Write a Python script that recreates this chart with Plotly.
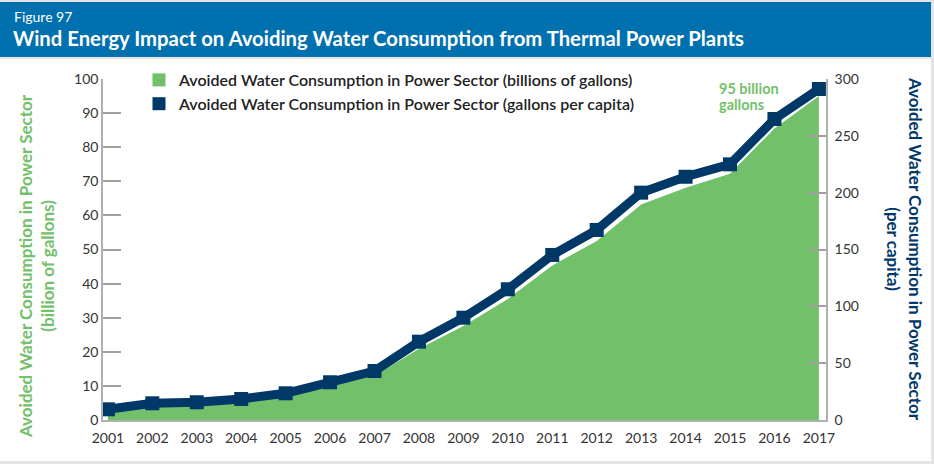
import plotly.graph_objects as go

years = [2001, 2002, 2003, 2004, 2005, 2006, 2007, 2008, 2009,
         2010, 2011, 2012, 2013, 2014, 2015, 2016, 2017]
billions_gallons = [2.7, 4.2, 4.5, 5.4, 7.0, 9.9, 13.0, 20.9, 27.6,
                    35.5, 45.3, 52.5, 63.2, 68.1, 72.2, 85.5, 95.0]
gallons_per_capita = [9.4, 14.7, 15.6, 18.5, 23.5, 33.2, 43.1, 68.9, 90.0,
                      115.0, 145.2, 167.2, 200.0, 214.0, 224.9, 264.8, 291.2]
year_labels = [str(y) for y in years]
left_ticks = list(range(0, 101, 10))
right_ticks = list(range(0, 301, 50))

GREEN = "#73c06a"
NAVY = "#003868"
BLUE = "#0071ae"
FONT = "Lato"

# plot area in pixels
L, R, T, B = 103, 826, 79, 420
W, H = 934, 464
PW, PH = R - L, B - T


def px(x):
    return (x - L) / PW


def py(y):
    return (B - y) / PH


fig = go.Figure()
fig.add_trace(go.Scatter(
    x=years, y=billions_gallons, mode="lines", fill="tozeroy",
    fillcolor=GREEN, line=dict(width=0, color=GREEN), showlegend=False,
    yaxis="y", hoverinfo="skip"))
fig.add_trace(go.Scatter(
    x=years, y=gallons_per_capita, mode="lines+markers", yaxis="y2",
    line=dict(color=NAVY, width=9),
    marker=dict(symbol="square", size=14, color=NAVY), showlegend=False))
# legend entries
fig.add_trace(go.Scatter(
    x=[None], y=[None], mode="markers", yaxis="y",
    marker=dict(symbol="square", size=13, color=GREEN),
    name="Avoided Water Consumption in Power Sector (billions of gallons)"))
fig.add_trace(go.Scatter(
    x=[None], y=[None], mode="markers", yaxis="y",
    marker=dict(symbol="square", size=13, color=NAVY),
    name="Avoided Water Consumption in Power Sector (gallons per capita)"))

shapes = [
    dict(type="rect", xref="paper", yref="paper", layer="below",
         x0=px(0), x1=px(931), y0=py(461), y1=py(59),
         fillcolor="white", line=dict(width=0)),
    dict(type="rect", xref="paper", yref="paper", layer="below",
         x0=px(0), x1=px(931), y0=py(57), y1=py(2),
         fillcolor=BLUE, line=dict(width=0)),
]

annotations = [
    dict(text="Figure 97", xref="paper", yref="paper", x=px(12), y=py(17),
         xanchor="left", yanchor="middle", showarrow=False,
         font=dict(family=FONT, size=14, color="white")),
    dict(text="<b>Wind Energy Impact on Avoiding Water Consumption from Thermal Power Plants</b>",
         xref="paper", yref="paper", x=px(11), y=py(38),
         xanchor="left", yanchor="middle", showarrow=False,
         font=dict(family=FONT, size=20.3, color="white")),
    dict(text="<b>Avoided Water Consumption in Power Sector<br>(billion of gallons)</b>",
         xref="paper", yref="paper", x=px(36), y=py(266),
         xanchor="center", yanchor="middle", showarrow=False, textangle=-90,
         font=dict(family=FONT, size=17, color=GREEN)),
    dict(text="<b>Avoided Water Consumption in Power Sector<br>(per capita)</b>",
         xref="paper", yref="paper", x=px(905), y=py(249),
         xanchor="center", yanchor="middle", showarrow=False, textangle=90,
         font=dict(family=FONT, size=17, color=NAVY)),
    dict(text="<b>95 billion</b>", xref="paper", yref="paper",
         x=px(717), y=py(88), xanchor="left", yanchor="middle", align="left",
         showarrow=False, font=dict(family=FONT, size=14.5, color=GREEN)),
    dict(text="<b>gallons</b>", xref="paper", yref="paper",
         x=px(717), y=py(104), xanchor="left", yanchor="middle", align="left",
         showarrow=False, font=dict(family=FONT, size=14.5, color=GREEN)),
]

fig.update_layout(
    width=W, height=H,
    margin=dict(l=L, r=W - R, t=T, b=H - B, pad=0),
    paper_bgcolor="#e4e4e4", plot_bgcolor="rgba(0,0,0,0)",
    font=dict(family=FONT, size=14, color="#333333"),
    shapes=shapes, annotations=annotations,
    xaxis=dict(range=[2000.89, 2017.16], tickvals=years, ticktext=year_labels,
               showgrid=False, zeroline=False, showline=True,
               linecolor="#b0b0b0", linewidth=1.5, ticks="",
               ticklabelstandoff=4,
               tickfont=dict(size=14, color="#333333")),
    yaxis=dict(range=[0, 100], tickvals=left_ticks, showgrid=False,
               zeroline=False, showline=True, linecolor="#b0b0b0",
               linewidth=1.5, ticks="inside", ticklen=18, tickcolor="#a0a0a0",
               tickwidth=1.5, tickfont=dict(size=14, color="#333333")),
    yaxis2=dict(range=[0, 300], tickvals=right_ticks, overlaying="y",
                side="right", showgrid=False, zeroline=False, showline=True,
                linecolor="#b0b0b0", linewidth=1.5, ticks="inside",
                ticklen=19, tickcolor="#a0a0a0", tickwidth=1.5,
                ticklabelstandoff=4,
                tickfont=dict(size=14, color="#333333")),
    legend=dict(x=px(139), y=py(63), xanchor="left", yanchor="top",
                bgcolor="rgba(0,0,0,0)", borderwidth=0, tracegroupgap=0,
                font=dict(family=FONT, size=16, color="#222222", weight=600),
                itemwidth=30),
)

fig.write_html("out.html",
               config={"displayModeBar": False},
               post_script="document.body.style.margin='0';"
                           "document.body.style.padding='0';")
